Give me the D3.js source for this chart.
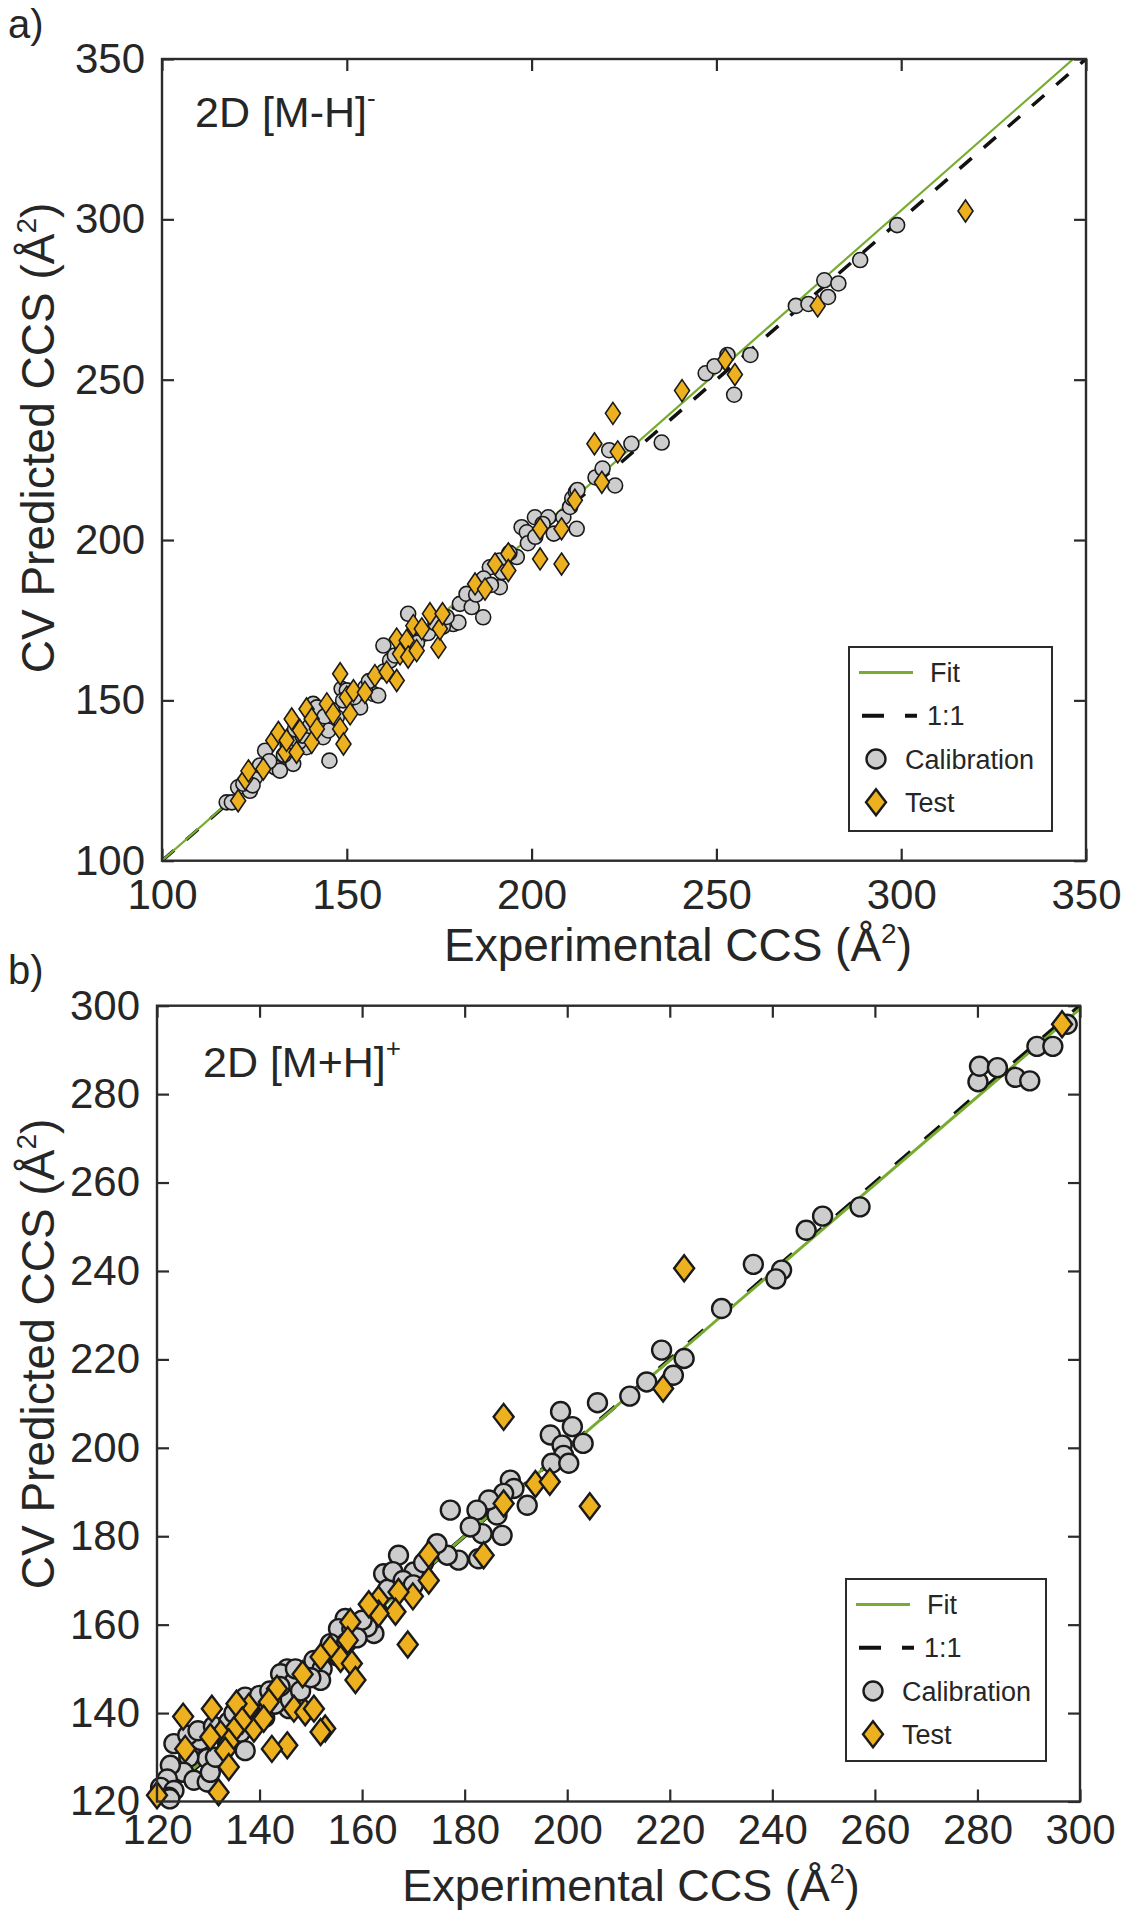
<!DOCTYPE html>
<html><head><meta charset="utf-8">
<script src="https://cdn.jsdelivr.net/npm/d3@7"></script>
<style>
body{margin:0;background:#fff}
text{font-family:"Liberation Sans",Arial,Helvetica,sans-serif;fill:#262626}
</style>
</head><body>
<svg id="chart" width="1130" height="1920"></svg>
<script>
// ---------------- DATA ----------------
const ticksA = [100, 150, 200, 250, 300, 350];
const ticksBX = [120, 140, 160, 180, 200, 220, 240, 260, 280, 300];
const ticksBY = [120, 140, 160, 180, 200, 220, 240, 260, 280, 300];

const panelLabels = ["a)", "b)"];
const ionLabels = ["2D [M-H]", "2D [M+H]"];
const ionCharges = ["-", "+"];
const xTitle = "Experimental CCS (Å";
const yTitle = "CV Predicted CCS (Å";
const legendLabels = ["Fit", "1:1", "Calibration", "Test"];

// fit lines: [slope, intercept]
const fitA = [1.014, -1.4];
const fitB = [0.994, 1.1];

const calibrationA = [
 [117.5,118.2],[118.9,118.2],[120.6,122.9],[123.8,121.8],[125.2,126],[126.5,129.7],[127.9,134.3],
 [130.6,129.1],[131.9,128.1],[135.5,130.2],[139.1,135.4],[140.9,148.9],[141.9,147.8],[143.6,138.5],
 [145.3,131.2],[145,140.6],[147.3,144.7],[148.6,153.6],[150,153.1],[151.8,148.9],[153.6,147.8],
 [157.2,152],[158.5,151.5],[159.9,167.1],[161.7,162.4],[166.6,177],[168,170.7],[170.7,170.7],
 [178.8,173.8],[180.2,174.3],[180.6,180.1],[182.4,183.2],[183.8,179.1],[186.9,175.9],[188.7,191.5],
 [191.4,193.6],[191.4,185.3],[196,194.7],[197.3,204],[198.7,202.4],[200.9,207.1],[204.5,207.1],
 [208.6,207.1],[212.2,203.5],[210.4,210.3],
 [122,124],[124.5,123.5],[129,131],[133,133],[134,136],[137,137],[138,139],[140,142],[142,143],
 [136,141],[144,145],[146,147],[149,150],[152,151],[155,154],[156,156],[160,159],[163,164],
 [165,166],[169,168],[172,171],[174,174],[176,173],[177,176],[185,183],[187,188],[189,186],
 [192,190],[194,196],[199,199],[201,201],[203,205],[206,202],[211,213],[212,215],
 [212.4,215.6],[217.3,219.5],[219.2,222.3],[221,228],[227,230],[222.6,217],[235.2,230.4],
 [247.1,252],[249.5,254.2],[253,257.7],[259.2,257.7],[254.8,245.3],[271.5,273],[274.9,273.6],
 [279.2,281],[280.2,275.8],[283,280],[288.9,287.3],[298.9,298.2]
];
const testA = [
 [120.6,118.7],[122.5,125.5],[123.4,128],[127.4,128.6],[130.1,137.5],[131.5,140],[133.3,133.8],
 [133.7,137.5],[135.1,144.2],[136.4,133.8],[137.3,140.6],[139.1,147.3],[140.5,144.2],[140.5,136.9],
 [141.9,141.1],[144.6,148.9],[146.3,145.8],[148.2,158.3],[148.2,141.1],[149.1,136.4],[150,151],
 [150.9,145.8],[151.8,153],[154.9,152.5],[157.6,157.7],[160.8,158.8],[163.5,156.2],[163.5,169.1],
 [164.4,164.5],[166.2,168.7],[166.6,163.5],[168,173.3],[168.9,165.5],[170.3,172.3],[172.5,177],
 [174.8,166.6],[175.2,172.3],[175.9,177],[184.7,186.3],[187.4,184.7],[190.1,192.5],[193.7,195.7],
 [193.7,190.5],[202.3,203.5],[202.3,194.1],[208.1,203.5],[208.1,192.5],[211.7,212.4],[217,230],
 [222,239.5],[223.3,227.5],[219,218],[240.7,246.6],[252.4,256.2],[255,251.6],[277.4,273],[317.4,302.6]
];
const calibrationB = [
 [198.7,208.2],[201,204.8],[196.7,202.9],[199,200.6],[199.3,198.3],[197,196.5],[200.3,196.5],
 [188.9,192.7],[189.6,190.8],[192.2,187],[187.6,189.7],[186.3,184.8],[184.7,188.2],[182.4,185.9],
 [187.3,180.2],[183.4,180.6],[181.1,182.1],[177.2,185.9],[182.7,174.9],[178.8,174.6],[176.6,175.7],
 [174.6,178.3],[167.1,175.7],[164.2,171.5],[170.1,171.9],[162.3,158],[161,159.5],[156.7,161.4],
 [155.4,159.1],[153.8,155.7],[150.6,151.9],[152.2,150],[151.9,147.4],[145.4,150],[144.1,148.9],
 [146.7,147],[145.7,141],[138.9,142.9],[137.2,143.6],[139.5,139.8],[136.3,135.7],[137.2,131.5],
 [133.7,133.4],[129.8,129.7],[127.5,133.1],[128.5,133.8],[123.3,133.1],[126.2,130],[125.2,126.6],
 [122.6,128.2],[122,125.1],[127.2,124.8],[129.8,124.4],[120.7,123.2],[123.3,122.5],[122.3,121],
 [130.4,126.6],[131.4,130],[122.5,120.6],
 [126,135],[128,136],[131,137],[134,138],[135,140],[138,141],[141,139],[143,142],[140,144],
 [146,143],[148,145],[147,150],[150,148],[155,153],[157,156],[158,159],[160,161],[163,163],
 [165,168],[166,172],[168,170],[170,169],[172,174],[159,157],[142,145],[144,146],
 [203.1,201],[236.3,241.5],[241.8,240.2],[240.7,238.2],[230.1,231.5],[246.6,249.2],[249.8,252.4],
 [257.1,254.5],[218.4,222.1],[222.8,220.2],[220.7,216.4],[215.5,214.9],[212.2,211.7],[205.9,210.2],
 [280.1,282.8],[280.4,286.3],[283.9,286],[287.4,283.8],[290.2,283],[291.6,290.8],[294.7,290.8],
 [297.5,295.8]
];
const testB = [
 [187.6,207],[193.8,191.8],[196.6,192.3],[187.6,187.4],[183.7,175.7],[173,175.9],[173,170],
 [169.9,166.4],[167.1,167.4],[166.5,162.9],[163.2,165.7],[163.2,162.5],[161.3,164.6],[157.7,160.6],
 [157.2,156.5],[168.9,155.5],[153.8,154.6],[155.8,152.3],[158,151.2],[158.7,147.5],[151.9,152.7],
 [148.4,148.8],[143.4,145.5],[141.8,142.5],[146.7,141],[148.9,140.2],[150.6,141],[152.8,136.5],
 [151.9,135.7],[145.4,132.7],[142.4,131.9],[138.9,136.5],[140.8,138.7],[137.9,141.4],[135.5,142.1],
 [136.6,138.3],[135,136.1],[132.4,135.3],[134,133.4],[130.7,141],[130.4,134.6],[125.1,139.2],
 [125.5,131.9],[133.3,131.5],[134,127.8],[132,122.1],[120,121.4],
 [222.8,240.6],[218.7,213.4],[204.4,186.8],[296.5,295.8]
];

// ---------------- STYLE ----------------
const GREEN = "#77AC30", GOLD = "#EDB120", GREY = "#CDCDCD", EDGE = "#1a1a1a", AXC = "#2b2b2b";

const panels = [
  {left:162, right:1086, top:59, bottom:860.7, xd:[100,350], yd:[100,350], xt:ticksA, yt:ticksA,
   xpad:18, r:7.5, hw:7.5, hh:11, sw:1.6, gw:2.2, dw:3.5, dash:"16,16",
   cal:calibrationA, test:testA, fit:fitA,
   leg:{x:849, y:647, w:203, h:184}, ion:{x:195, y:127},
   xTitleX:678, xTitleY:961, xFont:46, yTitleX:54, yTitleY:438, yFont:46, label:{x:8, y:38}},
  {left:157, right:1080, top:1005.7, bottom:1801.5, xd:[120,300], yd:[120,300], xt:ticksBX, yt:ticksBY,
   xpad:13, r:9.5, hw:10, hh:13, sw:2.4, gw:3, dw:4, dash:"20,19",
   cal:calibrationB, test:testB, fit:fitB,
   leg:{x:846, y:1579, w:200, h:182}, ion:{x:203, y:1077},
   xTitleX:631, xTitleY:1901, xFont:45, yTitleX:54, yTitleY:1354, yFont:46, label:{x:8, y:984}}
];

const svg = d3.select("#chart");
svg.append("rect").attr("width",1130).attr("height",1920).attr("fill","#fff");

function diamond(hw, hh){ return `M0,${-hh}L${hw},0L0,${hh}L${-hw},0Z`; }

panels.forEach((p, i) => {
  const x = d3.scaleLinear().domain(p.xd).range([p.left, p.right]);
  const y = d3.scaleLinear().domain(p.yd).range([p.bottom, p.top]);
  const g = svg.append("g");

  const clipId = "clip" + i;
  g.append("clipPath").attr("id", clipId).append("rect")
    .attr("x", p.left).attr("y", p.top).attr("width", p.right - p.left).attr("height", p.bottom - p.top);

  // axes (inward ticks on all sides)
  const tickFont = 42;
  const ax = [
    g.append("g").attr("transform",`translate(0,${p.bottom})`).call(d3.axisBottom(x).tickValues(p.xt).tickSize(-12).tickPadding(p.xpad).tickFormat(d3.format("d"))),
    g.append("g").attr("transform",`translate(0,${p.top})`).call(d3.axisTop(x).tickValues(p.xt).tickSize(-12).tickFormat("")),
    g.append("g").attr("transform",`translate(${p.left},0)`).call(d3.axisLeft(y).tickValues(p.yt).tickSize(-12).tickPadding(17).tickFormat(d3.format("d"))),
    g.append("g").attr("transform",`translate(${p.right},0)`).call(d3.axisRight(y).tickValues(p.yt).tickSize(-12).tickFormat(""))
  ];
  ax.forEach(a => {
    a.select(".domain").remove();
    a.selectAll(".tick line").attr("stroke", AXC).attr("stroke-width", 2.2);
    a.selectAll(".tick text").style("font-size", tickFont + "px").attr("fill", "#262626")
      .style("font-family", '"Liberation Sans",Arial,sans-serif');
  });

  // 1:1 and fit lines
  const lg = g.append("g").attr("clip-path", `url(#${clipId})`);
  const x0 = p.xd[0], x1 = p.xd[1];
  lg.append("line").attr("x1", x(x0)).attr("y1", y(x0)).attr("x2", x(x1)).attr("y2", y(x1))
    .attr("stroke", "#111").attr("stroke-width", p.dw).attr("stroke-dasharray", p.dash);
  lg.append("line").attr("x1", x(x0)).attr("y1", y(p.fit[0]*x0 + p.fit[1]))
    .attr("x2", x(x1)).attr("y2", y(p.fit[0]*x1 + p.fit[1]))
    .attr("stroke", GREEN).attr("stroke-width", p.gw);

  // markers
  g.append("g").selectAll("circle").data(p.cal).join("circle")
    .attr("cx", d => x(d[0])).attr("cy", d => y(d[1])).attr("r", p.r)
    .attr("fill", GREY).attr("stroke", EDGE).attr("stroke-width", p.sw);
  g.append("g").selectAll("path").data(p.test).join("path")
    .attr("d", diamond(p.hw, p.hh))
    .attr("transform", d => `translate(${x(d[0])},${y(d[1])})`)
    .attr("fill", GOLD).attr("stroke", EDGE).attr("stroke-width", p.sw);

  // frame
  g.append("rect").attr("x", p.left).attr("y", p.top).attr("width", p.right - p.left).attr("height", p.bottom - p.top)
    .attr("fill", "none").attr("stroke", AXC).attr("stroke-width", 2.4);

  // titles
  const supF = Math.round(p.xFont * 0.6), supD = Math.round(p.xFont * 0.4);
  const xt = g.append("text").attr("x", p.xTitleX).attr("y", p.xTitleY)
    .attr("text-anchor", "middle").style("font-size", p.xFont + "px");
  xt.append("tspan").text(xTitle);
  xt.append("tspan").text("2").style("font-size", supF + "px").attr("dy", -supD);
  xt.append("tspan").text(")").attr("dy", supD);

  const supFy = Math.round(p.yFont * 0.6), supDy = Math.round(p.yFont * 0.4);
  const yt = g.append("text").attr("transform", `translate(${p.yTitleX},${p.yTitleY}) rotate(-90)`)
    .attr("text-anchor", "middle").style("font-size", p.yFont + "px");
  yt.append("tspan").text(yTitle);
  yt.append("tspan").text("2").style("font-size", supFy + "px").attr("dy", -supDy);
  yt.append("tspan").text(")").attr("dy", supDy);

  // ion label
  const il = g.append("text").attr("x", p.ion.x).attr("y", p.ion.y).style("font-size", "43px");
  il.append("tspan").text(ionLabels[i]);
  il.append("tspan").text(ionCharges[i]).style("font-size", "26px").attr("dy", -20);

  // panel label
  svg.append("text").attr("x", p.label.x).attr("y", p.label.y).style("font-size", "40px").text(panelLabels[i]);

  // legend
  const L = p.leg;
  const lgd = g.append("g");
  lgd.append("rect").attr("x", L.x).attr("y", L.y).attr("width", L.w).attr("height", L.h)
    .attr("fill", "#fff").attr("stroke", AXC).attr("stroke-width", 2);
  const step = 43.3, first = 25.4;
  const ey = k => L.y + first + k * step;
  lgd.append("line").attr("x1", L.x + 10).attr("x2", L.x + 64).attr("y1", ey(0)).attr("y2", ey(0))
    .attr("stroke", GREEN).attr("stroke-width", 3);
  lgd.append("line").attr("x1", L.x + 13).attr("x2", L.x + 68).attr("y1", ey(1)).attr("y2", ey(1))
    .attr("stroke", "#111").attr("stroke-width", 4).attr("stroke-dasharray", "22,21");
  lgd.append("circle").attr("cx", L.x + 27).attr("cy", ey(2)).attr("r", 9.5)
    .attr("fill", GREY).attr("stroke", EDGE).attr("stroke-width", 2.4);
  lgd.append("path").attr("d", diamond(10, 13)).attr("transform", `translate(${L.x + 27},${ey(3)})`)
    .attr("fill", GOLD).attr("stroke", EDGE).attr("stroke-width", 2.4);
  const tx = [L.x + 81, L.x + 78, L.x + 56, L.x + 56];
  legendLabels.forEach((t, k) => {
    lgd.append("text").attr("x", tx[k]).attr("y", ey(k)).attr("dy", "0.36em")
      .style("font-size", "27px").text(t);
  });
});
</script>
</body></html>
